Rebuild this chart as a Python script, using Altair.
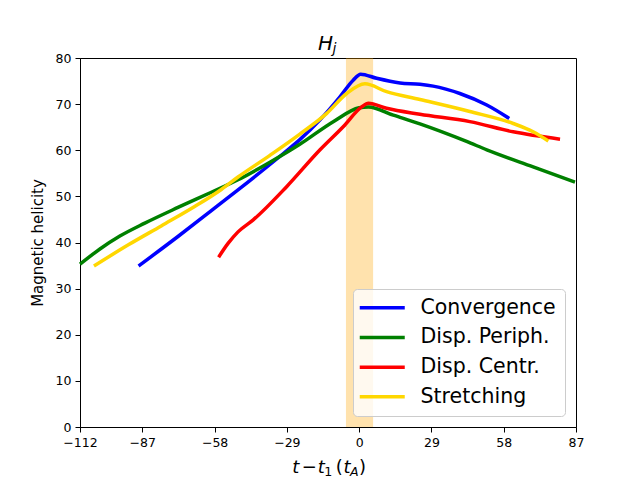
import altair as alt
import pandas as pd

series_names = ["Convergence", "Disp. Periph.", "Disp. Centr.", "Stretching"]
series_colors = ["#0000ff", "#008000", "#ff0000", "#ffd700"]

conv_t = [-88.5, -72.7, -59.3, -48.6, -30.4, -23.8, -15.7, -7.7, -2.4, 0.6, 7.0, 16.4, 24.4, 29.7, 40.4, 51.2, 60.2]
conv_h = [34.9, 41.3, 46.9, 51.4, 59.3, 62.3, 66.6, 71.6, 75.2, 76.5, 75.6, 74.6, 74.3, 73.9, 72.3, 69.8, 66.9]

peri_t = [-112.0, -104.0, -96.0, -86.0, -72.7, -59.3, -48.6, -35.8, -23.8, -10.4, 0.0, 3.7, 13.7, 24.4, 43.1, 51.2, 69.8, 86.6]
peri_h = [35.3, 38.6, 41.4, 44.2, 47.6, 50.9, 53.6, 57.4, 61.3, 66.2, 69.2, 69.4, 67.6, 65.7, 61.9, 60.1, 56.4, 53.1]

cent_t = [-56.4, -52.6, -48.6, -42.5, -29.1, -15.7, -6.4, 1.0, 3.7, 11.0, 24.4, 44.4, 61.8, 80.6]
cent_h = [36.8, 39.8, 42.3, 44.9, 52.1, 60.1, 65.1, 69.4, 70.2, 69.1, 67.8, 66.2, 64.0, 62.4]

stre_t = [-106.4, -92.6, -79.4, -66.0, -55.3, -48.6, -35.8, -23.8, -13.0, -5.0, 2.3, 11.0, 24.4, 44.4, 61.8, 69.8, 75.9]
stre_h = [34.9, 39.5, 43.6, 47.8, 51.5, 54.2, 58.9, 63.5, 68.0, 72.3, 74.4, 72.7, 71.0, 68.4, 65.8, 64.0, 62.0]

band_start = [-5.3]
band_end = [5.6]

x_ticks = [-112, -87, -58, -29, 0, 29, 58, 87]
y_ticks = [0, 10, 20, 30, 40, 50, 60, 70, 80]

rows = []
for name, ts, hs in zip(series_names, [conv_t, peri_t, cent_t, stre_t], [conv_h, peri_h, cent_h, stre_h]):
    for t, h in zip(ts, hs):
        rows.append({"series": name, "t": t, "h": h})
df = pd.DataFrame(rows)
band_df = pd.DataFrame({"t0": band_start, "t1": band_end})

W, H = 496, 369
FONT = "DejaVu Sans"

x_scale = alt.Scale(domain=[-112, 87], nice=False, zero=False)
y_scale = alt.Scale(domain=[0, 80], nice=False, zero=False)

x_axis = alt.Axis(values=x_ticks, title=None, grid=False, tickSize=5, tickColor="black",
                  domainColor="black", labelColor="black", labelFontSize=12.5, labelFont=FONT,
                  labelPadding=4, format="d", labelFlush=False, labelOverlap=False)
y_axis = alt.Axis(values=y_ticks, title="Magnetic helicity", grid=False, tickSize=5, tickColor="black",
                  domainColor="black", labelColor="black", labelFontSize=12.5, labelFont=FONT,
                  labelPadding=4, format="d", labelFlush=False, labelOverlap=False,
                  titleFont=FONT, titleFontSize=15, titleFontWeight="normal", titleColor="black",
                  titlePadding=10)

band = alt.Chart(band_df).mark_rect(color="orange", opacity=0.32).encode(
    x=alt.X("t0:Q", scale=x_scale, axis=x_axis),
    x2="t1:Q",
    y=alt.datum(0, scale=y_scale, axis=y_axis),
    y2=alt.datum(80),
)

lines = alt.Chart(df).mark_line(strokeWidth=3.5, interpolate="monotone").encode(
    x=alt.X("t:Q", scale=x_scale, axis=x_axis),
    y=alt.Y("h:Q", scale=y_scale, axis=y_axis),
    color=alt.Color(
        "series:N",
        scale=alt.Scale(domain=series_names, range=series_colors),
        legend=alt.Legend(
            title=None, orient="none", legendX=273, legendY=231,
            symbolType="M-4.5,0H4.5", symbolSize=100, symbolStrokeWidth=3.5,
            symbolOffset=10.5,
            labelFontSize=20.5, labelFont=FONT, labelColor="black", labelOffset=28,
            rowPadding=8.7, padding=8.5, fillColor="rgba(255,255,255,0.8)",
            strokeColor="#cccccc", cornerRadius=4, labelLimit=400,
        ),
    ),
)

one = pd.DataFrame({"k": [0]})


def txt(s, x, y, size, italic=True):
    kw = dict(text=s, font=FONT, fontSize=size, color="black", align="center", baseline="alphabetic")
    if italic:
        kw["fontStyle"] = "italic"
    return alt.Chart(one).mark_text(**kw).encode(x=alt.value(x), y=alt.value(y))


labels = [
    # title H_j
    txt("H", 245.5, -8.5, 20),
    txt("j", 254.5, -5.5, 14),
    # x title  t − t1 (tA)
    txt("t", 215.8, 414.7, 18),
    txt("−", 229.2, 414.7, 18, italic=False),
    txt("t", 241.2, 414.7, 18),
    txt("1", 248.3, 418.0, 12.6, italic=False),
    txt("(", 259.2, 414.7, 18, italic=False),
    txt("t", 267.0, 414.7, 18),
    txt("A", 274.2, 418.0, 12.6),
    txt(")", 282.5, 414.7, 18, italic=False),
]

chart = alt.layer(band, lines, *labels).properties(
    width=W, height=H,
    autosize=alt.AutoSizeParams(type="none"),
    padding={"left": 72, "top": 50, "right": 56, "bottom": 52},
    background="white",
).configure_view(stroke="black", strokeWidth=1)

chart.save("out.html", embed_options={"renderer": "svg", "actions": False})
